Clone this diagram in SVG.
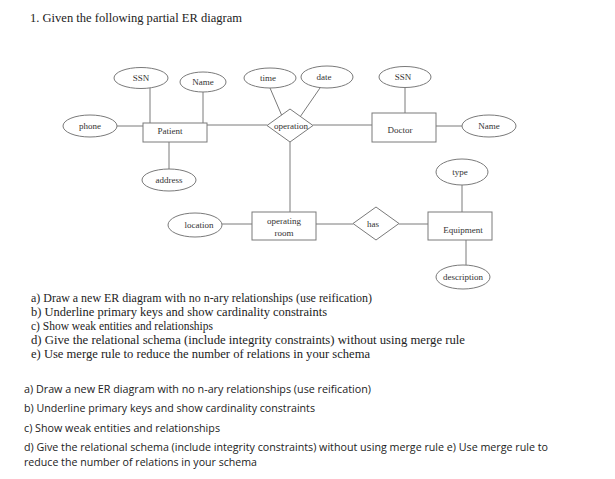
<svg xmlns="http://www.w3.org/2000/svg" width="615" height="479" viewBox="0 0 615 479">
<style>
.s{fill:none;stroke:#7a7a7a;stroke-width:1}
.b{fill:#fff;stroke:#7a7a7a;stroke-width:1}
.l{font-family:"Liberation Serif",serif;font-size:9px;fill:#333;text-anchor:middle}
.t{font-family:"Liberation Serif",serif;font-size:13px;fill:#222}
.p{font-family:"Open Sans","Noto Sans",sans-serif;font-size:11.5px;fill:#222}
</style>
<rect width="615" height="479" fill="#fff"/>
<text class="t" x="30" y="22" textLength="212" lengthAdjust="spacingAndGlyphs">1. Given the following partial ER diagram</text>
<g id="connectors">
<line class="s" x1="150" y1="88" x2="150" y2="123"/>
<line class="s" x1="203" y1="92" x2="203" y2="123"/>
<line class="s" x1="117" y1="126" x2="143" y2="126"/>
<line class="s" x1="207" y1="125" x2="267" y2="125"/>
<line class="s" x1="313" y1="125" x2="372" y2="125"/>
<line class="s" x1="405" y1="88" x2="405" y2="114"/>
<line class="s" x1="436" y1="126" x2="462" y2="126"/>
<line class="s" x1="270" y1="88" x2="282" y2="116"/>
<line class="s" x1="320" y1="88" x2="300" y2="117"/>
<line class="s" x1="290" y1="142" x2="290" y2="212"/>
<line class="s" x1="169" y1="142" x2="169" y2="169"/>
<line class="s" x1="222" y1="224" x2="252" y2="224"/>
<line class="s" x1="316" y1="224" x2="353" y2="224"/>
<line class="s" x1="399" y1="224" x2="428" y2="224"/>
<line class="s" x1="462" y1="185" x2="462" y2="212"/>
<line class="s" x1="466" y1="240" x2="466" y2="265"/>
</g>
<g id="ssn1"><ellipse class="b" cx="141" cy="78" rx="27" ry="10.5"/><text class="l" x="141" y="81">SSN</text></g>
<g id="name1"><ellipse class="b" cx="203" cy="82" rx="23" ry="10"/><text class="l" x="203" y="85">Name</text></g>
<g id="time"><ellipse class="b" cx="270" cy="78" rx="26" ry="10"/><text class="l" x="268" y="81">time</text></g>
<g id="date"><ellipse class="b" cx="327" cy="77" rx="26" ry="11"/><text class="l" x="324" y="80">date</text></g>
<g id="ssn2"><ellipse class="b" cx="405" cy="77" rx="26" ry="10.5"/><text class="l" x="403" y="80">SSN</text></g>
<g id="phone"><ellipse class="b" cx="90" cy="126" rx="27" ry="11"/><text class="l" x="90" y="129">phone</text></g>
<g id="name2"><ellipse class="b" cx="489" cy="126" rx="27" ry="11"/><text class="l" x="489" y="129">Name</text></g>
<g id="patient"><rect class="b" x="143" y="123" width="64" height="19"/><text class="l" x="170" y="134">Patient</text></g>
<g id="operation"><polygon class="b" points="290,109 313,125.5 290,142 267,125.5"/><text class="l" x="291" y="129">operation</text></g>
<g id="doctor"><rect class="b" x="372" y="113" width="64" height="29"/><text class="l" x="400" y="133">Doctor</text></g>
<g id="address"><ellipse class="b" cx="169" cy="180" rx="27" ry="11"/><text class="l" x="169" y="183">address</text></g>
<g id="location"><ellipse class="b" cx="195" cy="225" rx="27" ry="12"/><text class="l" x="199" y="228">location</text></g>
<g id="operating-room"><rect class="b" x="252" y="212" width="64" height="28"/><text class="l" x="284" y="224">operating</text><text class="l" x="284" y="236">room</text></g>
<g id="has"><polygon class="b" points="376,207 399,223.5 376,240 353,223.5"/><text class="l" x="373" y="227">has</text></g>
<g id="equipment"><rect class="b" x="428" y="212" width="64" height="28"/><text class="l" x="463" y="233">Equipment</text></g>
<g id="type"><ellipse class="b" cx="462" cy="172" rx="26" ry="13"/><text class="l" x="460" y="175">type</text></g>
<g id="description"><ellipse class="b" cx="463" cy="277" rx="27" ry="12"/><text class="l" x="463" y="280">description</text></g>
<text class="t" x="31" y="302" textLength="341" lengthAdjust="spacingAndGlyphs">a) Draw a new ER diagram with no n-ary relationships (use reification)</text>
<text class="t" x="31" y="316" textLength="296" lengthAdjust="spacingAndGlyphs">b) Underline primary keys and show cardinality constraints</text>
<text class="t" x="31" y="330" textLength="182" lengthAdjust="spacingAndGlyphs">c) Show weak entities and relationships</text>
<text class="t" x="31" y="344" textLength="434" lengthAdjust="spacingAndGlyphs">d) Give the relational schema (include integrity constraints) without using merge rule</text>
<text class="t" x="31" y="358" textLength="339" lengthAdjust="spacingAndGlyphs">e) Use merge rule to reduce the number of relations in your schema</text>
<text class="p" x="24" y="393" textLength="347" lengthAdjust="spacingAndGlyphs">a) Draw a new ER diagram with no n-ary relationships (use reification)</text>
<text class="p" x="24" y="412" textLength="291" lengthAdjust="spacingAndGlyphs">b) Underline primary keys and show cardinality constraints</text>
<text class="p" x="24" y="432" textLength="196" lengthAdjust="spacingAndGlyphs">c) Show weak entities and relationships</text>
<text class="p" x="24" y="451" textLength="524" lengthAdjust="spacingAndGlyphs">d) Give the relational schema (include integrity constraints) without using merge rule e) Use merge rule to</text>
<text class="p" x="24" y="466" textLength="233" lengthAdjust="spacingAndGlyphs">reduce the number of relations in your schema</text>
</svg>
